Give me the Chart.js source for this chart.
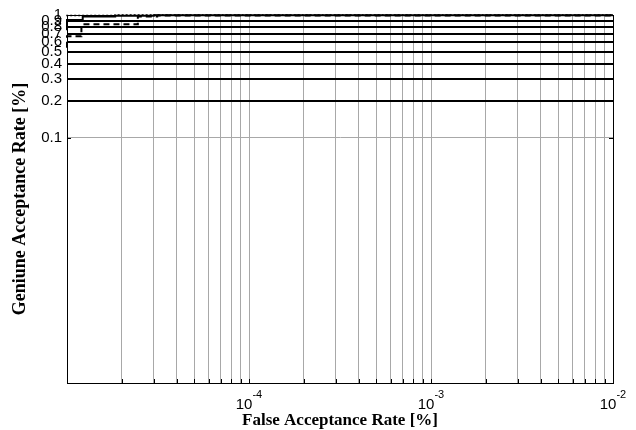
<!DOCTYPE html>
<html>
<head>
<meta charset="utf-8">
<script src="https://cdn.jsdelivr.net/npm/chart.js@4"></script>
<style>
  html, body { margin: 0; padding: 0; background: #fff; }
  #wrap { width: 636px; height: 430px; }
</style>
</head>
<body>
<div id="wrap"><canvas id="roc"></canvas></div>
<script>
// step curves (FAR on x, GAR on y)
const solidFar = [1e-5, 1.22e-5, 1.84e-5, 3.0e-5, 1e-4, 1e-2];
const solidGar = [0.75, 0.91, 0.97, 0.985, 0.995, 0.995];
const dashFar = [1e-5, 1.2e-5, 2.45e-5, 3.13e-5, 1.2e-4, 1e-2];
const dashGar = [0.54, 0.67, 0.84, 0.97, 0.99, 0.99];
const dotFar = [1e-5, 1.84e-5, 1e-2];
const dotGar = [0.975, 0.99, 1.0];

const xTicks = [2e-5, 3e-5, 4e-5, 5e-5, 6e-5, 7e-5, 8e-5, 9e-5,
                1e-4, 2e-4, 3e-4, 4e-4, 5e-4, 6e-4, 7e-4, 8e-4, 9e-4,
                1e-3, 2e-3, 3e-3, 4e-3, 5e-3, 6e-3, 7e-3, 8e-3, 9e-3, 1e-2];
const xLabelValues = [1e-4, 1e-3, 1e-2];
const xLabelExps = ['-4', '-3', '-2'];
const yTicks = [0.1, 0.2, 0.3, 0.4, 0.5, 0.6, 0.7, 0.8, 0.9, 1];

function pts(xs, ys) {
    return xs.map((x, i) => ({ x: x, y: ys[i] }));
}

const sans = "Arial, 'Liberation Sans', sans-serif";
const serif = "'Times New Roman', 'Liberation Serif', serif";

// box, inward tick marks and the 10^n labels
const frame = {
    id: 'frame',
    afterDraw(chart) {
        const a = chart.chartArea;
        const ctx = chart.ctx;
        const xs = chart.scales.x;
        const ys = chart.scales.y;
        ctx.save();
        ctx.strokeStyle = '#000';
        ctx.lineWidth = 1;
        ctx.strokeRect(a.left + 0.5, a.top + 0.5, a.right - a.left, a.bottom - a.top);

        ctx.beginPath();
        xTicks.forEach(v => {
            const px = Math.round(xs.getPixelForValue(v)) + 0.5;
            ctx.moveTo(px, a.bottom);
            ctx.lineTo(px, a.bottom - 4);
        });
        yTicks.forEach(v => {
            const py = Math.round(ys.getPixelForValue(v)) + 0.5;
            ctx.moveTo(a.left, py);
            ctx.lineTo(a.left + 4, py);
            ctx.moveTo(a.right, py);
            ctx.lineTo(a.right - 4, py);
        });
        ctx.stroke();

        ctx.fillStyle = '#000';
        ctx.textBaseline = 'alphabetic';
        ctx.textAlign = 'left';
        xLabelValues.forEach((v, i) => {
            const px = xs.getPixelForValue(v);
            ctx.font = '15px ' + sans;
            const w1 = ctx.measureText('10').width;
            ctx.font = '11px ' + sans;
            const w2 = ctx.measureText(xLabelExps[i]).width;
            const x0 = px - (w1 + w2) / 2;
            ctx.font = '15px ' + sans;
            ctx.fillText('10', x0, a.bottom + 26);
            ctx.font = '11px ' + sans;
            ctx.fillText(xLabelExps[i], x0 + w1, a.bottom + 15);
        });
        ctx.restore();
    }
};

new Chart(document.getElementById('roc'), {
    type: 'line',
    data: {
        datasets: [
            { data: pts(solidFar, solidGar), borderColor: '#000', borderWidth: 2, stepped: 'after', pointRadius: 0, clip: 4 },
            { data: pts(dashFar, dashGar), borderColor: '#000', borderWidth: 2, borderDash: [6, 4], stepped: 'after', pointRadius: 0, clip: 4 },
            { data: pts(dotFar, dotGar), borderColor: '#000', borderWidth: 1.5, borderDash: [2, 2], stepped: 'after', pointRadius: 0, clip: 4 }
        ]
    },
    options: {
        responsive: true,
        maintainAspectRatio: false,
        animation: false,
        layout: { padding: { top: 15, right: 23, left: 0, bottom: 0 } },
        plugins: { legend: { display: false }, tooltip: { enabled: false } },
        scales: {
            x: {
                type: 'logarithmic',
                min: 1e-5,
                max: 1e-2,
                afterBuildTicks: (s) => { s.ticks = xTicks.map(v => ({ value: v })); },
                afterFit: (s) => { s.height = 47; },
                grid: { color: '#a8a8a8', lineWidth: 1, drawTicks: false },
                border: { display: true, color: '#000', width: 1 },
                ticks: {
                    autoSkip: false,
                    maxRotation: 0,
                    padding: 12,
                    font: { family: sans, size: 14 },
                    callback: () => ''
                },
                title: {
                    display: true,
                    text: 'False Acceptance Rate [%]',
                    color: '#000',
                    font: { family: serif, size: 17, weight: 'bold' },
                    padding: { top: 0, bottom: -1 }
                }
            },
            y: {
                type: 'logarithmic',
                min: 1e-3,
                max: 1,
                afterBuildTicks: (s) => { s.ticks = yTicks.map(v => ({ value: v })); },
                afterFit: (s) => { s.width = 67; },
                grid: {
                    drawTicks: false,
                    color: (c) => (c.tick && c.tick.value === 0.1) ? '#a8a8a8' : '#000',
                    lineWidth: (c) => (c.tick && (c.tick.value === 0.1 || c.tick.value === 1)) ? 1 : 2
                },
                border: { display: true, color: '#000', width: 1 },
                ticks: {
                    autoSkip: false,
                    padding: 5,
                    color: '#000',
                    font: { family: sans, size: 15 },
                    callback: (v) => String(v)
                },
                title: {
                    display: true,
                    text: 'Geniune Acceptance Rate [%]',
                    color: '#000',
                    font: { family: serif, size: 18, weight: 'bold' },
                    padding: { top: 10, bottom: 0 }
                }
            }
        }
    },
    plugins: [frame]
});
</script>
</body>
</html>
